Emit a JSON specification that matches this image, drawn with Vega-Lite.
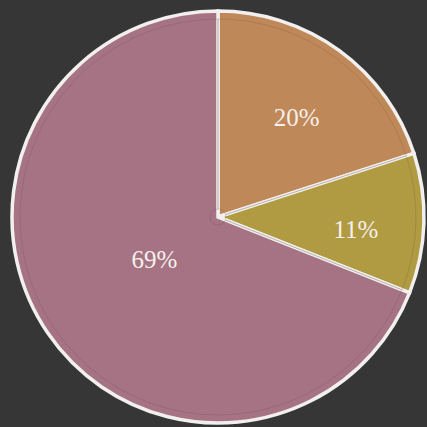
{
  "$schema": "https://vega.github.io/schema/vega-lite/v6.json",
  "width": 418,
  "height": 420,
  "autosize": {"type": "none"},
  "padding": {"left": 9, "top": 7, "right": 0, "bottom": 0},
  "background": "#363636",
  "view": {"stroke": null},
  "data": {
    "values": [
      {"category": "A", "value": 20, "label": "20%"},
      {"category": "B", "value": 11, "label": "11%"},
      {"category": "C", "value": 69, "label": "69%"}
    ]
  },
  "encoding": {
    "theta": {"field": "value", "type": "quantitative", "stack": true},
    "order": {"field": "category", "type": "nominal", "sort": "ascending"}
  },
  "layer": [
    {
      "mark": {"type": "arc", "outerRadius": 206, "stroke": "#f2f0ee", "strokeWidth": 3.5},
      "encoding": {
        "color": {
          "field": "category",
          "type": "nominal",
          "scale": {"domain": ["A", "B", "C"], "range": ["#bf8858", "#b09a42", "#a57383"]},
          "legend": null
        }
      }
    },
    {
      "mark": {"type": "arc", "outerRadius": 198, "innerRadius": 8, "fill": null, "stroke": "#5a4a40", "strokeWidth": 0.6, "strokeOpacity": 0.35},
      "encoding": {}
    },
    {
      "mark": {"type": "text", "font": "Liberation Serif", "fontSize": 25, "fill": "#f5f0ec", "radius": 127, "dx": 4, "dy": 4},
      "encoding": {
        "text": {"condition": {"test": "datum.category == 'A'", "field": "label"}, "value": ""}
      }
    },
    {
      "mark": {"type": "text", "font": "Liberation Serif", "fontSize": 25, "fill": "#f5f0ec", "radius": 138, "dy": 9},
      "encoding": {
        "text": {"condition": {"test": "datum.category == 'B'", "field": "label"}, "value": ""}
      }
    },
    {
      "mark": {"type": "text", "font": "Liberation Serif", "fontSize": 25, "fill": "#f5f0ec", "radius": 77},
      "encoding": {
        "text": {"condition": {"test": "datum.category == 'C'", "field": "label"}, "value": ""}
      }
    }
  ]
}
